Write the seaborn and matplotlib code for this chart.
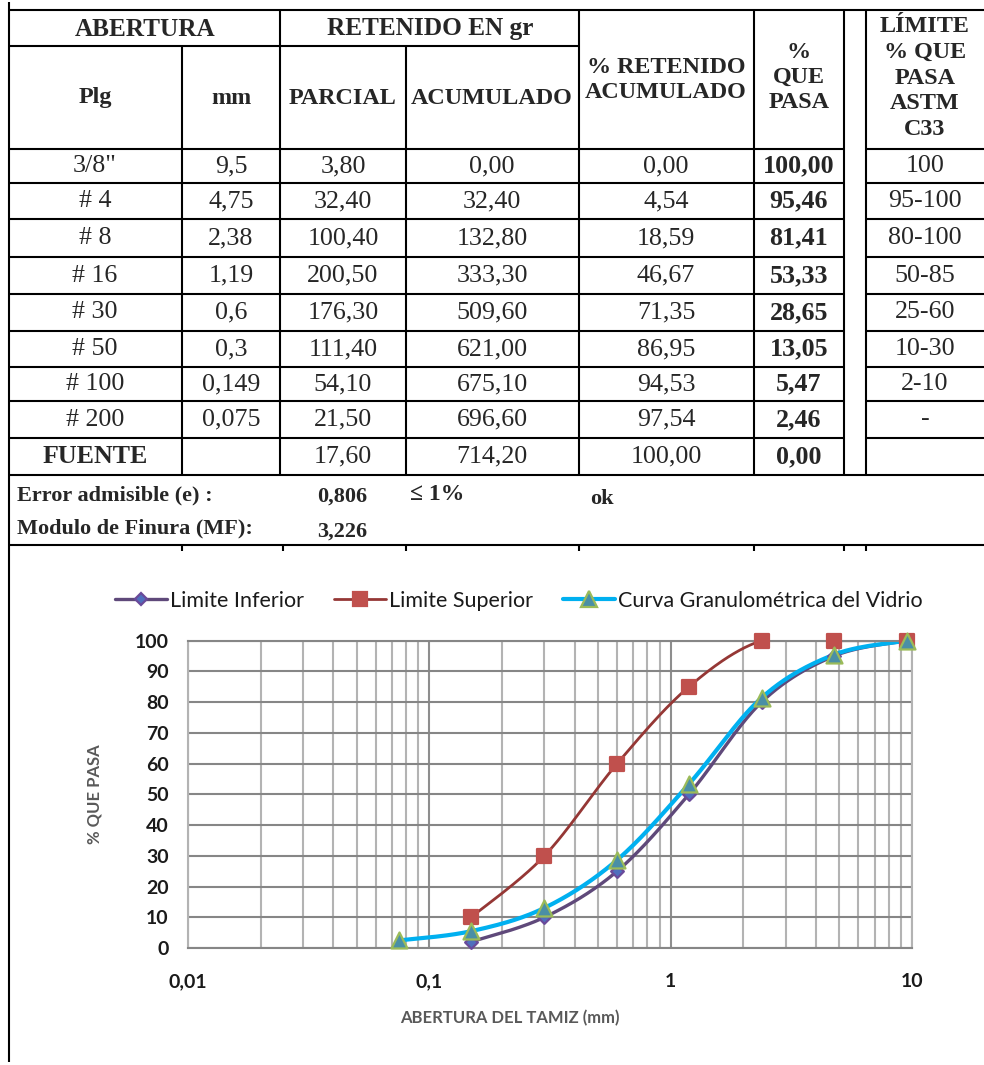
import numpy as np
import matplotlib
matplotlib.use("Agg")
import matplotlib.pyplot as plt
from matplotlib.lines import Line2D
from matplotlib.ticker import LogLocator, NullFormatter, FixedLocator, FixedFormatter
import seaborn as sns

# ---- Sieve analysis data ----
sieves = ['3/8"', "# 4", "# 8", "# 16", "# 30", "# 50", "# 100", "# 200"]
opening_mm = [9.5, 4.75, 2.38, 1.19, 0.6, 0.3, 0.149, 0.075]
retained_partial = [3.80, 32.40, 100.40, 200.50, 176.30, 111.40, 54.10, 21.50]
retained_cumulative = [0.00, 32.40, 132.80, 333.30, 509.60, 621.00, 675.10, 696.60]
pct_retained_cum = [0.00, 4.54, 18.59, 46.67, 71.35, 86.95, 94.53, 97.54]
pct_passing = [100.00, 95.46, 81.41, 53.33, 28.65, 13.05, 5.47, 2.46]
astm_c33 = ["100", "95-100", "80-100", "50-85", "25-60", "10-30", "2-10", "-"]

pan_label = "FUENTE"
pan_partial = 17.60
pan_cumulative = 714.20
pan_pct_retained = 100.00
pan_pct_passing = 0.00

error_admissible = 0.806
fineness_modulus = 3.226

# ASTM C33 grading envelope
limit_mm = [9.5, 4.75, 2.38, 1.19, 0.6, 0.3, 0.149]
limit_lower = [100, 95, 80, 50, 25, 10, 2]
limit_upper = [100, 100, 100, 85, 60, 30, 10]

x_ticks = [0.01, 0.1, 1, 10]
x_tick_labels = ["0,01", "0,1", "1", "10"]

series_names = ["Limite Inferior", "Limite Superior", "Curva Granulométrica del Vidrio"]


def fmt(v, d=2):
    return f"{v:.{d}f}".replace(".", ",")


def fmt_mm(v):
    return str(v).replace(".", ",")


def smooth(xs, ys, sx=240.0, sy=3.08, n=40):
    """Bezier smoothing through the points (log-x screen space)."""
    P = np.column_stack([np.log10(xs) * sx, np.asarray(ys, float) * sy])
    out = []
    for i in range(len(P) - 1):
        p0 = P[i - 1] if i > 0 else P[i]
        p1, p2 = P[i], P[i + 1]
        p3 = P[i + 2] if i + 2 < len(P) else P[i + 1]
        c1 = p1 + (p2 - p0) / 6.0
        c2 = p2 - (p3 - p1) / 6.0
        t = np.linspace(0, 1, n)[:, None]
        seg = (1 - t) ** 3 * p1 + 3 * (1 - t) ** 2 * t * c1 + 3 * (1 - t) * t ** 2 * c2 + t ** 3 * p2
        out.append(seg if i == 0 else seg[1:])
    out = np.vstack(out)
    return 10 ** (out[:, 0] / sx), out[:, 1] / sy


sns.set_theme(style="white")
plt.rcParams["font.family"] = ["Lato", "DejaVu Sans"]

W, H = 984, 1065
fig = plt.figure(figsize=(W / 100, H / 100), dpi=100)
fig.patch.set_facecolor("white")

# ---- table drawn in pixel coordinates ----
tab = fig.add_axes([0, 0, 1, 1])
tab.set_xlim(0, W)
tab.set_ylim(H, 0)
tab.axis("off")

LW = 1.5
SERIF = ["Liberation Serif", "DejaVu Serif"]


def hline(y, x0, x1):
    tab.plot([x0, x1], [y, y], color="black", lw=LW, solid_capstyle="butt")


def vline(x, y0, y1):
    tab.plot([x, x], [y0, y1], color="black", lw=LW, solid_capstyle="butt")


row_edges = [149, 183, 219, 257, 294, 331, 367, 401, 438, 475]

hline(10, 9, 984)
hline(46, 9, 579)
for y in row_edges[:-1]:
    hline(y, 9, 844)
    hline(y, 866, 984)
hline(475, 9, 984)
hline(545, 9, 984)

vline(9, 2, 1062)
vline(182, 46, 475)
for x in [280, 579, 754, 844, 866]:
    vline(x, 10, 475)
vline(406, 46, 475)
for x in [182, 283, 406, 579, 754, 844, 866]:
    vline(x, 545, 551)

hdr = dict(fontfamily=SERIF, fontweight="bold", fontsize=17.4, ha="center", va="center")
tab.text(145, 29, "ABERTURA", **dict(hdr, fontsize=18.2))
tab.text(430, 29, "RETENIDO EN gr", **dict(hdr, fontsize=18.2))
tab.text(95, 98, "Plg", **hdr)
tab.text(231, 98, "mm", **hdr)
tab.text(343, 98, "PARCIAL", **hdr)
tab.text(492, 98, "ACUMULADO", **hdr)
tab.text(666, 80, "% RETENIDO\nACUMULADO", linespacing=1.25, **hdr)
tab.text(799, 77, "%\nQUE\nPASA", linespacing=1.25, **hdr)
tab.text(925, 78, "LÍMITE\n% QUE\nPASA\nASTM\nC33", linespacing=1.3, **hdr)

cell = dict(fontfamily=SERIF, fontsize=18.7, ha="center", va="center")
centers = [(row_edges[i] + row_edges[i + 1]) / 2 for i in range(len(row_edges) - 1)]
for i, yc in enumerate(centers[:-1]):
    tab.text(95, yc, sieves[i], **cell)
    tab.text(231, yc, fmt_mm(opening_mm[i]), **cell)
    tab.text(343, yc, fmt(retained_partial[i]), **cell)
    tab.text(492, yc, fmt(retained_cumulative[i]), **cell)
    tab.text(666, yc, fmt(pct_retained_cum[i]), **cell)
    tab.text(799, yc, fmt(pct_passing[i]), fontweight="bold", **cell)
    tab.text(925, yc, astm_c33[i], **cell)
yc = centers[-1]
tab.text(95, yc, pan_label, fontweight="bold", **cell)
tab.text(343, yc, fmt(pan_partial), **cell)
tab.text(492, yc, fmt(pan_cumulative), **cell)
tab.text(666, yc, fmt(pan_pct_retained), **cell)
tab.text(799, yc, fmt(pan_pct_passing), fontweight="bold", **cell)

foot = dict(fontfamily=SERIF, fontweight="bold", fontsize=16, va="center")
tab.text(17, 495, "Error admisible (e) :", ha="left", **foot)
tab.text(17, 528, "Modulo de Finura (MF):", ha="left", **foot)
tab.text(342, 497, fmt(error_admissible, 3), ha="center", **foot)
tab.text(342, 532, fmt(fineness_modulus, 3), ha="center", **foot)
tab.text(410, 494, "≤ 1%", ha="left", **dict(foot, fontsize=17))
tab.text(602, 499, "ok", ha="center", **foot)

# ---- grading chart ----
ax = fig.add_axes([188 / W, 1 - 948 / H, (912 - 188) / W, (948 - 640.7) / H])
ax.set_facecolor("white")
ax.set_xscale("log")
ax.set_xlim(0.01, 10)
ax.set_ylim(0, 100)
ax.xaxis.set_major_locator(FixedLocator(x_ticks))
ax.xaxis.set_major_formatter(FixedFormatter(x_tick_labels))
ax.xaxis.set_minor_locator(LogLocator(base=10, subs=np.arange(2, 10)))
ax.xaxis.set_minor_formatter(NullFormatter())
ax.set_yticks(np.arange(0, 101, 10))

ax.set_axisbelow(True)
ax.grid(axis="y", which="major", color="#868686", lw=1.5)
ax.grid(axis="x", which="minor", color="#b3b3b3", lw=1.5)
ax.grid(axis="x", which="major", color="#8e8e8e", lw=1.5)
for side, c in [("bottom", "#868686"), ("top", "#868686"), ("left", "#b3b3b3"), ("right", "#b3b3b3")]:
    ax.spines[side].set_color(c)
    ax.spines[side].set_linewidth(1.5)

ax.tick_params(axis="x", which="minor", length=0)
ax.tick_params(axis="x", which="major", length=7, width=1.5, color="#868686",
               direction="out", pad=11, labelsize=14, labelcolor="#1a1a1a")
ax.tick_params(axis="y", length=0, pad=14, labelsize=14, labelcolor="#1a1a1a")
for lab in ax.get_xticklabels() + ax.get_yticklabels():
    lab.set_fontweight("bold")

styles = [
    dict(line="#5f497a", lw=2.4, marker="D", ms=6.5, mfc="#4f6fbd", mec="#6a4a9a"),
    dict(line="#953735", lw=2.0, marker="s", ms=10, mfc="#c0504d", mec="#c0504d"),
    dict(line="#00b0f0", lw=3.0, marker="^", ms=11.5, mfc="#4a8fa6", mec="#9bbb59"),
]
series = [
    (limit_mm, limit_lower),
    (limit_mm, limit_upper),
    (opening_mm, pct_passing),
]

for (xs, ys), st in zip(series, styles):
    order = np.argsort(xs)
    xs_s = np.asarray(xs)[order]
    ys_s = np.asarray(ys)[order]
    cx, cy = smooth(xs_s, ys_s)
    sns.lineplot(x=cx, y=cy, sort=False, estimator=None, color=st["line"], lw=st["lw"], ax=ax)

for (xs, ys), st in zip(series, styles):
    sns.scatterplot(x=xs, y=ys, marker=st["marker"], s=st["ms"] ** 2, color=st["mfc"],
                    edgecolor=st["mec"], linewidth=1.6, ax=ax, zorder=5, clip_on=False)

ax.set_xlabel("ABERTURA DEL TAMIZ (mm)", fontsize=12, fontweight="bold", color="#595959")
ax.set_ylabel("% QUE PASA", fontsize=12, fontweight="bold", color="#595959")
ax.xaxis.set_label_coords((510 - 188) / 724, (948 - 1010) / 307.3)
ax.yaxis.set_label_coords((102 - 188) / 724, 0.5)

handles = [Line2D([], [], color=st["line"], lw=st["lw"], marker=st["marker"], ms=st["ms"],
                  mfc=st["mfc"], mec=st["mec"], mew=1.6) for st in styles]
fig.legend(handles, series_names, loc="center", bbox_to_anchor=(519 / W, 1 - 601 / H),
           ncol=3, frameon=False, fontsize=15.5, handlelength=2.4, handletextpad=0.15,
           columnspacing=1.4, labelcolor="#1a1a1a")

fig.savefig("out.png", dpi=100, facecolor="white")
